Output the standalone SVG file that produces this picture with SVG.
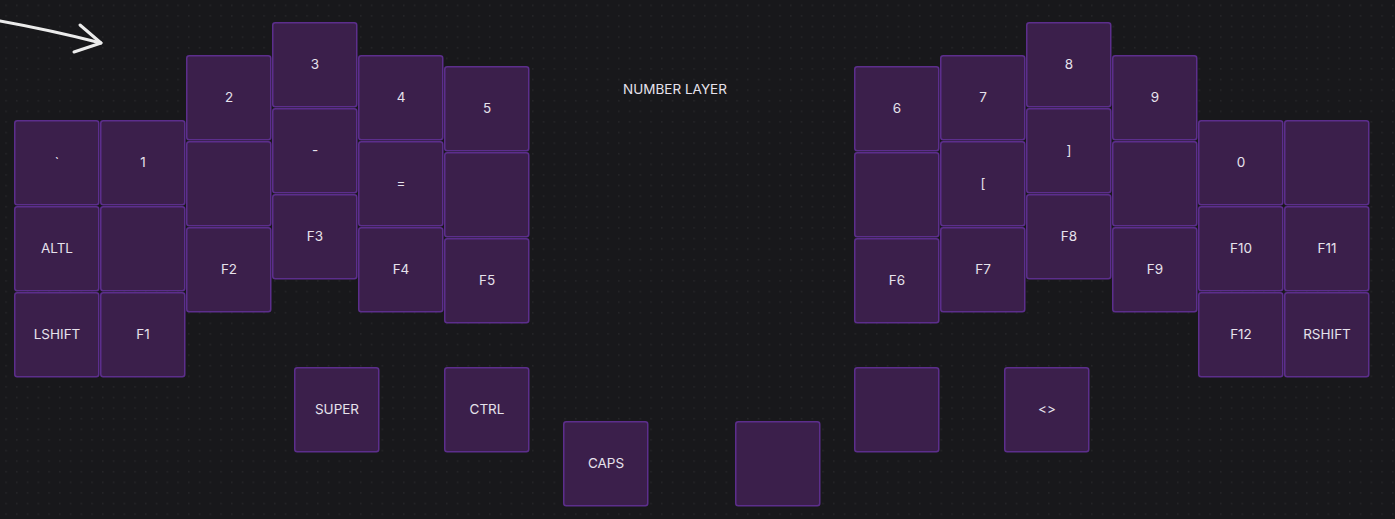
<svg xmlns="http://www.w3.org/2000/svg" width="1395" height="519" viewBox="0 0 1395 519">
<style>
.k rect{fill:#3b1f4b;stroke:#5c2e8c;stroke-width:1.5}
.k text,.t{fill:#e6e2ec;font-family:Inter,"Noto Sans",sans-serif;font-size:13.5px;text-anchor:middle;dominant-baseline:central}
</style>
<defs>
<pattern id="dots" x="0.4" y="-0.3" width="10.75" height="10.6" patternUnits="userSpaceOnUse">
<rect x="5" y="5" width="1.3" height="1.3" fill="#2a2a2e"/>
</pattern>
</defs>
<rect width="1395" height="519" fill="#18181b"/>
<rect width="1395" height="519" fill="url(#dots)"/>
<g id="arrow" fill="none" stroke="#ececec" stroke-width="3" stroke-linecap="round" stroke-linejoin="round">
<path d="M0,21 Q50,30 101,43"/>
<path d="M80,25 L101,43 L74,52"/>
</g>
<text class="t" x="675" y="89">NUMBER LAYER</text>
<g id="connectors"></g>
<g id="keys">
<g id="k-grave" class="k"><rect x="14.75" y="120.75" width="84" height="84" rx="2.5"/><text x="57" y="162">`</text></g>
<g id="k-altl" class="k"><rect x="14.75" y="206.75" width="84" height="84" rx="2.5"/><text x="57" y="248">ALTL</text></g>
<g id="k-lshift" class="k"><rect x="14.75" y="292.75" width="84" height="84" rx="2.5"/><text x="57" y="334">LSHIFT</text></g>
<g id="k-1" class="k"><rect x="100.75" y="120.75" width="84" height="84" rx="2.5"/><text x="143" y="162">1</text></g>
<g id="k-l1b" class="k"><rect x="100.75" y="206.75" width="84" height="84" rx="2.5"/></g>
<g id="k-f1" class="k"><rect x="100.75" y="292.75" width="84" height="84" rx="2.5"/><text x="143" y="334">F1</text></g>
<g id="k-2" class="k"><rect x="186.75" y="55.75" width="84" height="84" rx="2.5"/><text x="229" y="97">2</text></g>
<g id="k-l2b" class="k"><rect x="186.75" y="141.75" width="84" height="84" rx="2.5"/></g>
<g id="k-f2" class="k"><rect x="186.75" y="227.75" width="84" height="84" rx="2.5"/><text x="229" y="269">F2</text></g>
<g id="k-3" class="k"><rect x="272.75" y="22.75" width="84" height="84" rx="2.5"/><text x="315" y="64">3</text></g>
<g id="k-minus" class="k"><rect x="272.75" y="108.75" width="84" height="84" rx="2.5"/><text x="315" y="150">-</text></g>
<g id="k-f3" class="k"><rect x="272.75" y="194.75" width="84" height="84" rx="2.5"/><text x="315" y="236">F3</text></g>
<g id="k-4" class="k"><rect x="358.75" y="55.75" width="84" height="84" rx="2.5"/><text x="401" y="97">4</text></g>
<g id="k-eq" class="k"><rect x="358.75" y="141.75" width="84" height="84" rx="2.5"/><text x="401" y="183">=</text></g>
<g id="k-f4" class="k"><rect x="358.75" y="227.75" width="84" height="84" rx="2.5"/><text x="401" y="269">F4</text></g>
<g id="k-5" class="k"><rect x="444.75" y="66.75" width="84" height="84" rx="2.5"/><text x="487" y="108">5</text></g>
<g id="k-l5b" class="k"><rect x="444.75" y="152.75" width="84" height="84" rx="2.5"/></g>
<g id="k-f5" class="k"><rect x="444.75" y="238.75" width="84" height="84" rx="2.5"/><text x="487" y="280">F5</text></g>
<g id="k-super" class="k"><rect x="294.75" y="367.75" width="84" height="84" rx="2.5"/><text x="337" y="409">SUPER</text></g>
<g id="k-ctrl" class="k"><rect x="444.75" y="367.75" width="84" height="84" rx="2.5"/><text x="487" y="409">CTRL</text></g>
<g id="k-caps" class="k"><rect x="563.75" y="421.75" width="84" height="84" rx="2.5"/><text x="606" y="463">CAPS</text></g>
<g id="k-tr1" class="k"><rect x="735.75" y="421.75" width="84" height="84" rx="2.5"/></g>
<g id="k-tr2" class="k"><rect x="854.75" y="367.75" width="84" height="84" rx="2.5"/></g>
<g id="k-ltgt" class="k"><rect x="1004.75" y="367.75" width="84" height="84" rx="2.5"/><text x="1047" y="409">&lt;&gt;</text></g>
<g id="k-6" class="k"><rect x="854.75" y="66.75" width="84" height="84" rx="2.5"/><text x="897" y="108">6</text></g>
<g id="k-r6b" class="k"><rect x="854.75" y="152.75" width="84" height="84" rx="2.5"/></g>
<g id="k-f6" class="k"><rect x="854.75" y="238.75" width="84" height="84" rx="2.5"/><text x="897" y="280">F6</text></g>
<g id="k-7" class="k"><rect x="940.75" y="55.75" width="84" height="84" rx="2.5"/><text x="983" y="97">7</text></g>
<g id="k-lbr" class="k"><rect x="940.75" y="141.75" width="84" height="84" rx="2.5"/><text x="983" y="183">[</text></g>
<g id="k-f7" class="k"><rect x="940.75" y="227.75" width="84" height="84" rx="2.5"/><text x="983" y="269">F7</text></g>
<g id="k-8" class="k"><rect x="1026.75" y="22.75" width="84" height="84" rx="2.5"/><text x="1069" y="64">8</text></g>
<g id="k-rbr" class="k"><rect x="1026.75" y="108.75" width="84" height="84" rx="2.5"/><text x="1069" y="150">]</text></g>
<g id="k-f8" class="k"><rect x="1026.75" y="194.75" width="84" height="84" rx="2.5"/><text x="1069" y="236">F8</text></g>
<g id="k-9" class="k"><rect x="1112.75" y="55.75" width="84" height="84" rx="2.5"/><text x="1155" y="97">9</text></g>
<g id="k-r9b" class="k"><rect x="1112.75" y="141.75" width="84" height="84" rx="2.5"/></g>
<g id="k-f9" class="k"><rect x="1112.75" y="227.75" width="84" height="84" rx="2.5"/><text x="1155" y="269">F9</text></g>
<g id="k-0" class="k"><rect x="1198.75" y="120.75" width="84" height="84" rx="2.5"/><text x="1241" y="162">0</text></g>
<g id="k-f10" class="k"><rect x="1198.75" y="206.75" width="84" height="84" rx="2.5"/><text x="1241" y="248">F10</text></g>
<g id="k-f12" class="k"><rect x="1198.75" y="292.75" width="84" height="84" rx="2.5"/><text x="1241" y="334">F12</text></g>
<g id="k-r11a" class="k"><rect x="1284.75" y="120.75" width="84" height="84" rx="2.5"/></g>
<g id="k-f11" class="k"><rect x="1284.75" y="206.75" width="84" height="84" rx="2.5"/><text x="1327" y="248">F11</text></g>
<g id="k-rshift" class="k"><rect x="1284.75" y="292.75" width="84" height="84" rx="2.5"/><text x="1327" y="334">RSHIFT</text></g>
</g>
</svg>
